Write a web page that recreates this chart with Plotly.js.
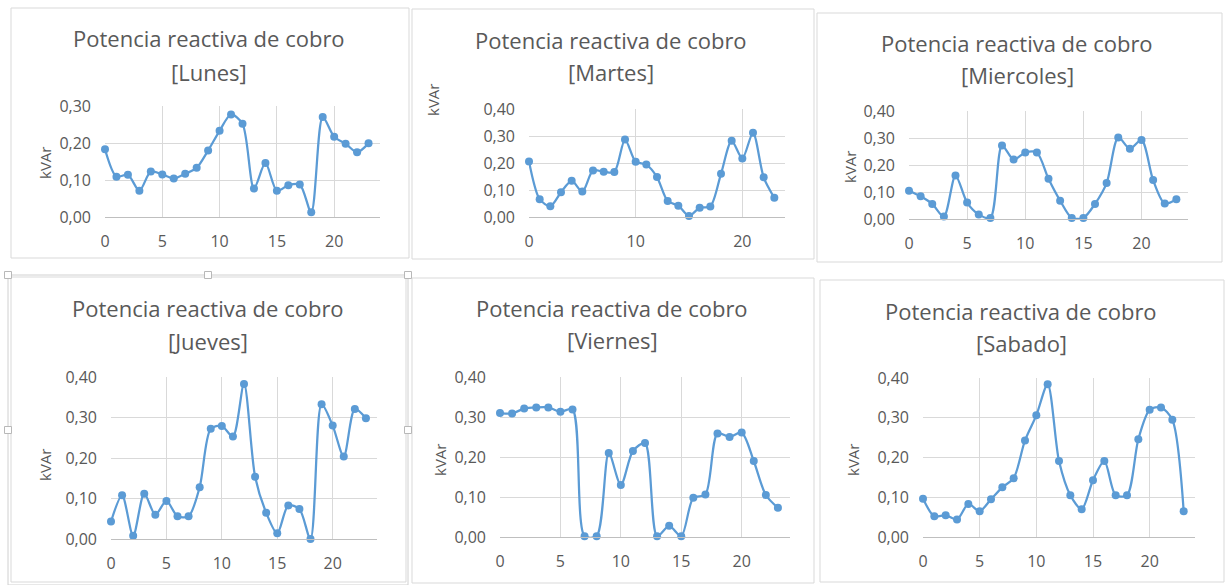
<!DOCTYPE html>
<html>
<head>
<meta charset="utf-8">
<script src="https://cdn.plot.ly/plotly-3.0.1.min.js"></script>
<style>html,body{margin:0;padding:0;background:#fff;}#chart{width:1230px;height:585px;}</style>
</head>
<body>
<div id="chart"></div>
<script>
// ---- data ----
const hours = [0,1,2,3,4,5,6,7,8,9,10,11,12,13,14,15,16,17,18,19,20,21,22,23];
const days = ["Lunes","Martes","Miercoles","Jueves","Viernes","Sabado"];
const chartTitle = "Potencia reactiva de cobro";
const yTitle = "kVAr";
const lunes     = [0.183,0.109,0.114,0.071,0.123,0.115,0.104,0.117,0.133,0.180,0.233,0.277,0.252,0.077,0.146,0.071,0.086,0.088,0.013,0.270,0.217,0.198,0.175,0.199];
const martes    = [0.206,0.066,0.040,0.092,0.134,0.094,0.172,0.168,0.167,0.287,0.205,0.194,0.148,0.059,0.042,0.004,0.034,0.039,0.160,0.282,0.217,0.312,0.147,0.071];
const miercoles = [0.105,0.084,0.056,0.009,0.161,0.061,0.017,0.004,0.272,0.220,0.246,0.246,0.149,0.068,0.004,0.004,0.056,0.133,0.302,0.260,0.293,0.144,0.057,0.073];
const jueves    = [0.043,0.108,0.008,0.112,0.060,0.094,0.056,0.056,0.128,0.272,0.279,0.253,0.383,0.154,0.065,0.014,0.083,0.074,0.000,0.333,0.280,0.204,0.321,0.298];
const viernes   = [0.310,0.309,0.321,0.324,0.324,0.313,0.319,0.002,0.002,0.210,0.130,0.215,0.235,0.002,0.028,0.002,0.098,0.106,0.259,0.250,0.261,0.190,0.105,0.073];
const sabado    = [0.096,0.052,0.055,0.044,0.083,0.065,0.095,0.125,0.148,0.243,0.306,0.384,0.191,0.105,0.070,0.143,0.191,0.105,0.105,0.246,0.320,0.326,0.295,0.065];
const series = [lunes, martes, miercoles, jueves, viernes, sabado];
const yMax = [0.30, 0.40, 0.40, 0.40, 0.40, 0.40];
const xStep = [5, 10, 5, 5, 5, 5];

// ---- layout geometry (pixels) ----
const W = 1230, H = 585;
const px = v => v / W;
const py = v => 1 - v / H;
const panels = [
  {box:[11,8,409,258],  plot:[105,106,380,217], t1:38, t2:72, tc:209, ya:[45,163]},
  {box:[412,9,814,259], plot:[529,109,785,217], t1:40, t2:72, tc:611, ya:[433,100]},
  {box:[817,13,1222,262], plot:[909,111,1188,219], t1:43, t2:75, tc:1017, ya:[850,167]},
  {box:[11,277,406,582], plot:[111,377,377,539], t1:308, t2:341, tc:208, ya:[45,465]},
  {box:[412,278,814,583], plot:[500,377,790,537], t1:308, t2:340, tc:612, ya:[440,460]},
  {box:[820,280,1224,582], plot:[923,378,1195,537], t1:311, t2:343, tc:1021, ya:[853,460]}
];

const lineColor = "#5b9bd5";
const textColor = "#595959";
const gridColor = "#d9d9d9";
const font = "Open Sans, Liberation Sans, sans-serif";

const data = [];
const layout = {
  width: W, height: H,
  margin: {l:0, r:0, t:0, b:0},
  paper_bgcolor: "#fff", plot_bgcolor: "#fff",
  showlegend: false,
  separators: ",.",
  shapes: [], annotations: []
};

panels.forEach((p, i) => {
  const k = i === 0 ? "" : String(i + 1);
  data.push({
    x: hours, y: series[i], type: "scatter", mode: "lines+markers",
    xaxis: "x" + k, yaxis: "y" + k,
    line: {color: lineColor, width: 2.25, shape: "spline", smoothing: 0.8},
    marker: {color: lineColor, size: 8},
    cliponaxis: false,
    hoverinfo: "skip"
  });
  layout["xaxis" + k] = {
    domain: [px(p.plot[0]), px(p.plot[2])],
    anchor: "y" + k, range: [0, 24], dtick: xStep[i], tick0: 0,
    showgrid: true, gridcolor: gridColor, gridwidth: 1,
    zeroline: false, showline: true, linecolor: "#bfbfbf", linewidth: 1,
    ticks: "", ticklabelstandoff: 10,
    tickfont: {family: font, size: 16, color: textColor}, fixedrange: true
  };
  layout["yaxis" + k] = {
    domain: [py(p.plot[3]), py(p.plot[1])],
    anchor: "x" + k, range: [0, yMax[i]], dtick: 0.1, tick0: 0,
    tickformat: ".2f",
    showgrid: true, gridcolor: gridColor, gridwidth: 1,
    zeroline: false, showline: false,
    ticks: "", ticklabelstandoff: 13,
    tickfont: {family: font, size: 16, color: textColor}, fixedrange: true
  };
  layout.shapes.push({
    type: "rect", xref: "paper", yref: "paper", layer: "below",
    x0: px(p.box[0]), x1: px(p.box[2]), y0: py(p.box[3]), y1: py(p.box[1]),
    line: {color: gridColor, width: 1}, fillcolor: "rgba(0,0,0,0)"
  });
  layout.annotations.push({
    xref: "paper", yref: "paper", x: px(p.tc), y: py(p.t1), xanchor: "center", yanchor: "middle",
    text: chartTitle, showarrow: false, font: {family: font, size: 22, color: textColor}
  });
  layout.annotations.push({
    xref: "paper", yref: "paper", x: px(p.tc), y: py(p.t2), xanchor: "center", yanchor: "middle",
    text: "[" + days[i] + "]", showarrow: false, font: {family: font, size: 22, color: textColor}
  });
  layout.annotations.push({
    xref: "paper", yref: "paper", x: px(p.ya[0]), y: py(p.ya[1]), xanchor: "center", yanchor: "middle",
    text: yTitle, textangle: -90, showarrow: false, font: {family: font, size: 15, color: textColor}
  });
});

// selection frame and handles around the Jueves chart
layout.shapes.push({
  type: "rect", xref: "paper", yref: "paper", layer: "below",
  x0: px(8), x1: px(408), y0: py(585), y1: py(275),
  line: {color: "#d0d0d0", width: 1}, fillcolor: "rgba(0,0,0,0)"
});
[[8,275],[208,275],[408,275],[8,430],[408,430]].forEach(h => {
  layout.shapes.push({
    type: "rect", xref: "paper", yref: "paper",
    x0: px(h[0]-3.5), x1: px(h[0]+3.5), y0: py(h[1]+3.5), y1: py(h[1]-3.5),
    line: {color: "#b8b8b8", width: 1}, fillcolor: "#ffffff"
  });
});

Plotly.newPlot("chart", data, layout, {staticPlot: true, displayModeBar: false});
</script>
</body>
</html>
